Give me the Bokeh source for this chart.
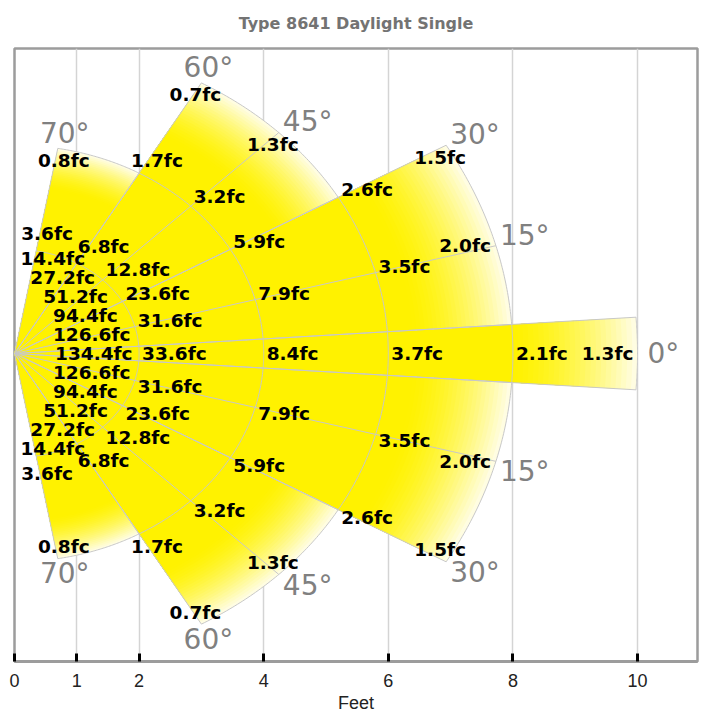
import numpy as np
from bokeh.plotting import figure
from bokeh.models import ColumnDataSource, FixedTicker, Range1d
from bokeh.core.properties import value
from bokeh.embed import file_html
from bokeh.resources import INLINE

# ---------------- data ----------------
TITLE = "Type 8641 Daylight Single"
X_LABEL = "Feet"
X_TICKS = [0, 1, 2, 4, 6, 8, 10]
GRID_X = [1, 2, 4, 6, 8, 10]

# measurement rays (degrees off the aiming axis)
RAY_ANGLES = [0, 15, 30, 45, 60, 70]
DEGREE_LABELS = ["0°", "15°", "30°", "45°", "60°", "70°"]

# distances (ft) along each ray and illuminance (fc) there
DIST_0 = [1, 2, 4, 6, 8, 10]
FC_0 = [134.4, 33.6, 8.4, 3.7, 2.1, 1.3]
DIST_15 = [1, 2, 4, 6, 8]
FC_15 = [126.6, 31.6, 7.9, 3.5, 2.0]
DIST_30 = [1, 2, 4, 6, 8]
FC_30 = [94.4, 23.6, 5.9, 2.6, 1.5]
DIST_45 = [1, 2, 4, 6]
FC_45 = [51.2, 12.8, 3.2, 1.3]
DIST_60 = [1, 2, 4, 6]
FC_60 = [27.2, 6.8, 1.7, 0.7]
DIST_70 = [1, 2, 4]
FC_70 = [14.4, 3.6, 0.8]

# beam zones: angular extent (deg) and reach (ft)
ZONE_START_DEG = [0, 4, 30, 60]
ZONE_END_DEG = [4, 30, 60, 80]
ZONE_REACH_FT = [10, 8, 6, 4]
ARC_RADII = [2, 4, 6, 8]
INNER_RAYS = [15, 45]

RAY_DISTS = [DIST_0, DIST_15, DIST_30, DIST_45, DIST_60, DIST_70]
RAY_FC = [FC_0, FC_15, FC_30, FC_45, FC_60, FC_70]

# ---------------- helpers ----------------
def pxy(theta, r):
    t = np.radians(theta)
    return r * np.cos(t), r * np.sin(t)


def sector_polygon(a0, a1, r, n=60):
    th = np.linspace(a0, a1, n)
    x, y = pxy(th, r)
    return (np.concatenate([[0.0], x, [0.0]]).tolist(),
            np.concatenate([[0.0], y, [0.0]]).tolist())


def reach_at(ang):
    a = abs(ang)
    return max(R for s, e, R in zip(ZONE_START_DEG, ZONE_END_DEG, ZONE_REACH_FT)
               if s <= a <= e)


p = figure(width=705, height=715,
           x_range=Range1d(0, 10.963), y_range=Range1d(-5.914, 5.857),
           output_backend="svg", toolbar_location=None,
           y_axis_location=None, title=TITLE,
           min_border_left=14, min_border_right=8,
           min_border_top=46, min_border_bottom=51)

p.background_fill_color = "white"
p.border_fill_color = "white"
p.outline_line_color = "#9c9c9c"
p.outline_line_width = 2.5

p.title.text_font = "DejaVu Sans"
p.title.text_font_style = "bold"
p.title.text_font_size = "16px"
p.title.text_color = "#737373"
p.title.align = "center"
p.title.vertical_align = "top"
p.title.standoff = 27

p.xaxis.ticker = FixedTicker(ticks=X_TICKS)
p.xaxis.axis_label = X_LABEL
p.xaxis.axis_label_text_font = "Liberation Sans"
p.xaxis.axis_label_text_font_style = "normal"
p.xaxis.axis_label_text_font_size = "18px"
p.xaxis.axis_label_text_color = "#222222"
p.xaxis.axis_label_standoff = 3
p.xaxis.major_label_text_font = "Liberation Sans"
p.xaxis.major_label_text_font_size = "18px"
p.xaxis.major_label_text_color = "#222222"
p.xaxis.major_label_standoff = 12
p.xaxis.major_tick_in = 8
p.xaxis.major_tick_out = 0
p.xaxis.major_tick_line_color = "black"
p.xaxis.major_tick_line_width = 3
p.xaxis.minor_tick_line_color = None
p.xaxis.axis_line_color = "#9c9c9c"
p.xaxis.axis_line_width = 3

p.xgrid.ticker = FixedTicker(ticks=GRID_X)
p.xgrid.grid_line_color = "#d4d4d4"
p.xgrid.grid_line_width = 1.5
p.ygrid.grid_line_color = None

# ---------------- zones (mirrored) ----------------
halves = []
for s, e, R in zip(ZONE_START_DEG, ZONE_END_DEG, ZONE_REACH_FT):
    if s == 0:
        halves.append((-e, e, R))
    else:
        halves.append((s, e, R))
        halves.append((-e, -s, R))

YELLOW = np.array([255, 242, 0])
PALE = np.array([255, 253, 226])
FADE_FROM = 0.8
N_BANDS = 24
fx, fy, fc = [], [], []
for a0, a1, R in halves:
    r0 = FADE_FROM * R
    for k in range(N_BANDS, -1, -1):
        r = r0 + (R - r0) * k / N_BANDS
        t = (k / N_BANDS) ** 1.6
        c = YELLOW + (PALE - YELLOW) * t
        px_, py_ = sector_polygon(a0, a1, r)
        fx.append(px_)
        fy.append(py_)
        fc.append("#%02x%02x%02x" % tuple(int(round(v)) for v in c))
p.patches(fx, fy, fill_color=fc, line_color=None)

# outlines, arcs, rays
lx, ly = [], []
for a0, a1, R in halves:
    ox, oy = sector_polygon(a0, a1, R)
    lx.append(ox)
    ly.append(oy)
    for r in ARC_RADII:
        if r < R:
            th = np.linspace(a0, a1, 60)
            ax_, ay_ = pxy(th, r)
            lx.append(ax_.tolist())
            ly.append(ay_.tolist())
for a in INNER_RAYS:
    for side in (1, -1):
        ex, ey = pxy(side * a, reach_at(a))
        lx.append([0.0, float(ex)])
        ly.append([0.0, float(ey)])
p.multi_line(lx, ly, line_color="#c8c8c8", line_width=1)

# ---------------- fc labels ----------------
STACK_PITCH = 19
rows = {"left": [], "center": [], "right": []}
last_k = len(RAY_ANGLES) - 1
for k, (a, dists, vals) in enumerate(zip(RAY_ANGLES, RAY_DISTS, RAY_FC)):
    last_ray = (k == last_k)
    for i, (d, v) in enumerate(zip(dists, vals)):
        for side in ((1,) if a == 0 else (1, -1)):
            txt = f"{v:.1f}fc"
            if i == 0:
                x, _ = pxy(a, d)
                y = 0.0
                align, dx, away = "center", 17, STACK_PITCH * k
            elif i == len(dists) - 1:
                ang = ZONE_END_DEG[-1] if last_ray else a
                x, y = pxy(side * ang, d)
                if a == 0:
                    align, dx, away = "right", -4, 0
                elif a < 30:
                    align, dx, away = "right", -5, 0
                else:
                    align, dx, away = "center", (6 if last_ray else -6), -12
            else:
                x, y = pxy(side * a, d)
                away = (5 + 10 * np.sin(np.radians(a)) ** 2) if a else 0
                align, dx = "left", 3
                if last_ray:
                    align, dx, away = "center", -10, 22
                elif a == 60:
                    if d == 2:
                        dx, away = 1, 17
                    else:
                        dx = -8
            rows[align].append((float(x), float(y), txt, dx, -side * away))

for align, rr in rows.items():
    if not rr:
        continue
    src = ColumnDataSource(dict(x=[r[0] for r in rr], y=[r[1] for r in rr],
                                text=[r[2] for r in rr], dx=[r[3] for r in rr],
                                dy=[r[4] for r in rr]))
    p.text(x="x", y="y", text="text", source=src, x_offset="dx", y_offset="dy",
           text_align=align, text_baseline="middle",
           text_font=value("DejaVu Sans"), text_font_style="bold",
           text_font_size="18.5px", text_color="black")

# ---------------- degree labels ----------------
drows = {"left": [], "center": []}
for k, (a, lab) in enumerate(zip(RAY_ANGLES, DEGREE_LABELS)):
    ang = ZONE_END_DEG[-1] if k == last_k else a
    R = reach_at(ang)
    for side in ((1,) if a == 0 else (1, -1)):
        x, y = pxy(side * ang, R)
        if a == 0:
            align, dx, away = "left", 10, 0
        elif ang < 60:
            align, dx, away = "left", 4, 9 + a / 20
        else:
            align, dx, away = "center", 7, 15
        drows[align].append((float(x), float(y), lab, dx, -side * away))

for align, rr in drows.items():
    src = ColumnDataSource(dict(x=[r[0] for r in rr], y=[r[1] for r in rr],
                                text=[r[2] for r in rr], dx=[r[3] for r in rr],
                                dy=[r[4] for r in rr]))
    p.text(x="x", y="y", text="text", source=src, x_offset="dx", y_offset="dy",
           text_align=align, text_baseline="middle",
           text_font=value("DejaVu Sans"), text_font_size="28px",
           text_color="#808080")

open("out.html", "w").write(file_html(p, INLINE))
